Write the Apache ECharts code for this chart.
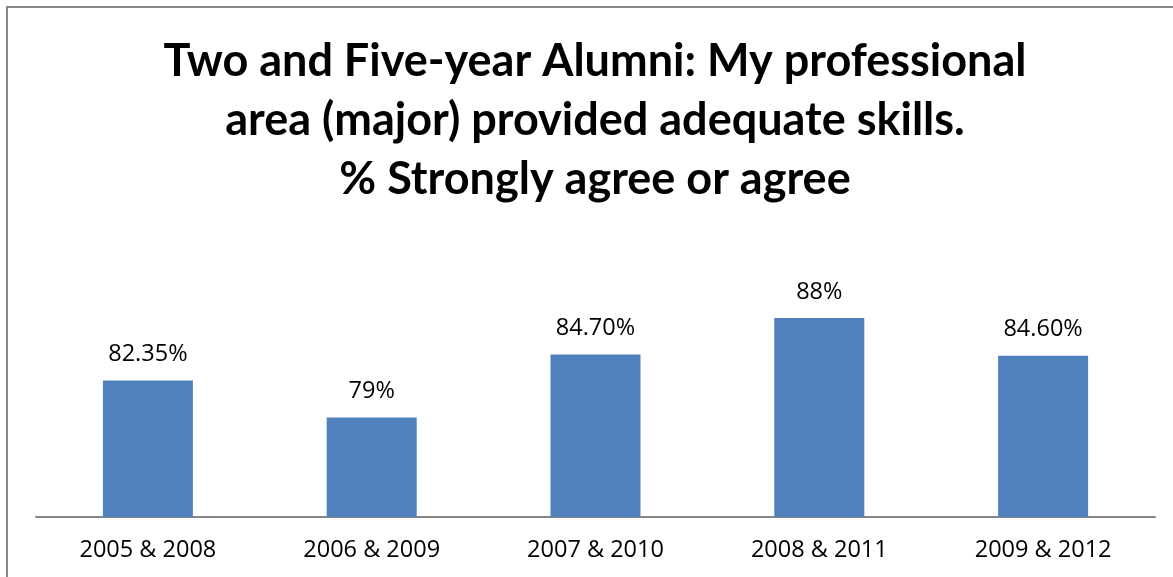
<!DOCTYPE html>
<html>
<head>
<meta charset="utf-8">
<script src="https://cdn.jsdelivr.net/npm/echarts@6/dist/echarts.min.js"></script>
<style>
  html, body { margin: 0; padding: 0; background: #fff; }
  #chart { width: 1173px; height: 577px; }
</style>
</head>
<body>
<div id="chart"></div>
<script>
  // data
  const categories = ['2005 & 2008', '2006 & 2009', '2007 & 2010', '2008 & 2011', '2009 & 2012']
  const values = [82.35, 79, 84.7, 88, 84.6]
  const valueLabels = ['82.35%', '79%', '84.70%', '88%', '84.60%']
  const titleText = 'Two and Five-year Alumni: My professional\narea (major) provided adequate skills.\n% Strongly agree or agree'

  const myChart = echarts.init(document.getElementById('chart'))
  const option = {
    animation: false,
    graphic: [
      // chart frame
      {
        type: 'rect',
        shape: { x: 7, y: 7, width: 1200, height: 620 },
        style: { fill: 'none', stroke: '#888', lineWidth: 2 },
        silent: true
      },
      // title (centred on the frame, which runs past the right edge)
      {
        type: 'text',
        x: 595,
        y: 32,
        silent: true,
        style: {
          text: titleText,
          fontFamily: 'Lato',
          fontWeight: 'bold',
          fontSize: 45,
          lineHeight: 59,
          fill: '#000',
          align: 'center',
          verticalAlign: 'top'
        }
      }
    ],
    grid: {
      left: 36,
      right: 18,
      top: 296,
      bottom: 60
    },
    xAxis: {
      type: 'category',
      data: categories,
      axisTick: { show: false },
      axisLine: { lineStyle: { color: '#868686', width: 2 } },
      axisLabel: {
        color: '#000',
        fontFamily: 'Open Sans',
        fontSize: 23.5,
        margin: 21
      }
    },
    yAxis: {
      type: 'value',
      min: 70,
      max: 90,
      show: false,
      splitLine: { show: false }
    },
    series: [
      {
        type: 'bar',
        data: values,
        barWidth: 90,
        itemStyle: { color: '#4F81BD' },
        label: {
          show: true,
          position: 'top',
          distance: 14,
          color: '#000',
          fontFamily: 'Open Sans',
          fontSize: 23.5,
          formatter: (p) => valueLabels[p.dataIndex]
        }
      }
    ]
  }
  myChart.setOption(option)
</script>
</body>
</html>
